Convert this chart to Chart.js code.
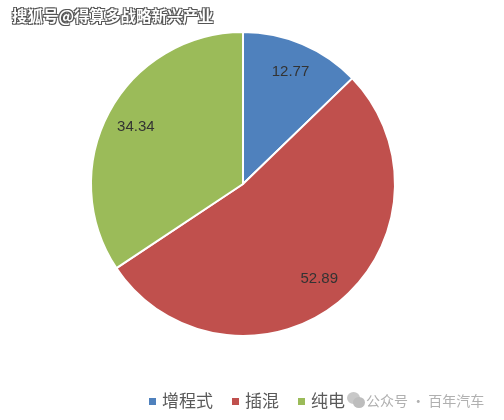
<!DOCTYPE html>
<html>
<head>
<meta charset="utf-8">
<script src="https://cdn.jsdelivr.net/npm/chart.js@4"></script>
<style>
  html, body { margin: 0; padding: 0; background: #fff; }
  #wrap { position: relative; width: 504px; height: 420px; }
  #mark {
    position: absolute; left: 12px; top: 4px;
    font: bold 15.5px "Noto Sans CJK SC", sans-serif; color: #fff;
    text-shadow: 1px 1px 0 #555, -1px -1px 0 #555, 1px -1px 0 #555, -1px 1px 0 #555;
  }
  #wx {
    position: absolute; left: 366px; top: 390px;
    font: 14px "Noto Sans CJK SC", sans-serif; color: #b0b0b0;
  }
  #wxicon { position: absolute; left: 347px; top: 392px; }
  #wxicon span { position: absolute; border-radius: 50%; background: #c8c8c8; }
</style>
</head>
<body>
<div id="wrap">
  <canvas id="chart" width="504" height="420"></canvas>
  <div id="mark">搜狐号@得算多战略新兴产业</div>
  <div id="wxicon"><span style="left:0;top:0;width:13px;height:12px"></span><span style="left:6px;top:5px;width:12px;height:11px;background:#bdbdbd"></span></div>
  <div id="wx">公众号 · 百年汽车</div>
</div>
<script>
let labels = ["增程式", "插混", "纯电"];
let shares = [12.77, 52.89, 34.34];
let colors = ['#4f81bd', '#c0504d', '#9bbb59'];

// value labels inside each slice
let sliceLabels = {
  id: 'sliceLabels',
  afterDatasetsDraw(chart) {
    let ctx = chart.ctx;
    let meta = chart.getDatasetMeta(0);
    ctx.save();
    ctx.font = '15px "Liberation Sans", sans-serif';
    ctx.fillStyle = '#333333';
    ctx.textAlign = 'center';
    ctx.textBaseline = 'middle';
    meta.data.forEach(function(arc, i) {
      let p = arc.getProps(['x', 'y', 'startAngle', 'endAngle', 'outerRadius'], true);
      let mid = (p.startAngle + p.endAngle) / 2;
      let r = p.outerRadius * 0.8;
      ctx.fillText(shares[i].toFixed(2), p.x + Math.cos(mid) * r, p.y + Math.sin(mid) * r);
    });
    ctx.restore();
  }
};

// legend row at the bottom
let bottomLegend = {
  id: 'bottomLegend',
  afterDraw(chart) {
    let ctx = chart.ctx;
    ctx.save();
    ctx.font = '17px "Noto Sans CJK SC", sans-serif';
    ctx.textBaseline = 'middle';
    let x = 149, y = 401;
    chart.data.labels.forEach(function(t, i) {
      ctx.fillStyle = colors[i];
      ctx.fillRect(x, y - 3, 7, 7);
      ctx.fillStyle = '#595959';
      ctx.fillText(t, x + 13, y);
      x += 13 + ctx.measureText(t).width + 19;
    });
    ctx.restore();
  }
};

let pieChart = new Chart(document.getElementById('chart'), {
  type: 'pie',
  data: {
    labels: labels,
    datasets: [{
      data: shares,
      backgroundColor: colors,
      borderColor: '#ffffff',
      borderWidth: 2
    }]
  },
  options: {
    responsive: false,
    animation: false,
    layout: { padding: { left: 90, right: 108, top: 31, bottom: 83 } },
    plugins: {
      legend: { display: false },
      tooltip: { enabled: false }
    }
  },
  plugins: [sliceLabels, bottomLegend]
});
</script>
</body>
</html>
